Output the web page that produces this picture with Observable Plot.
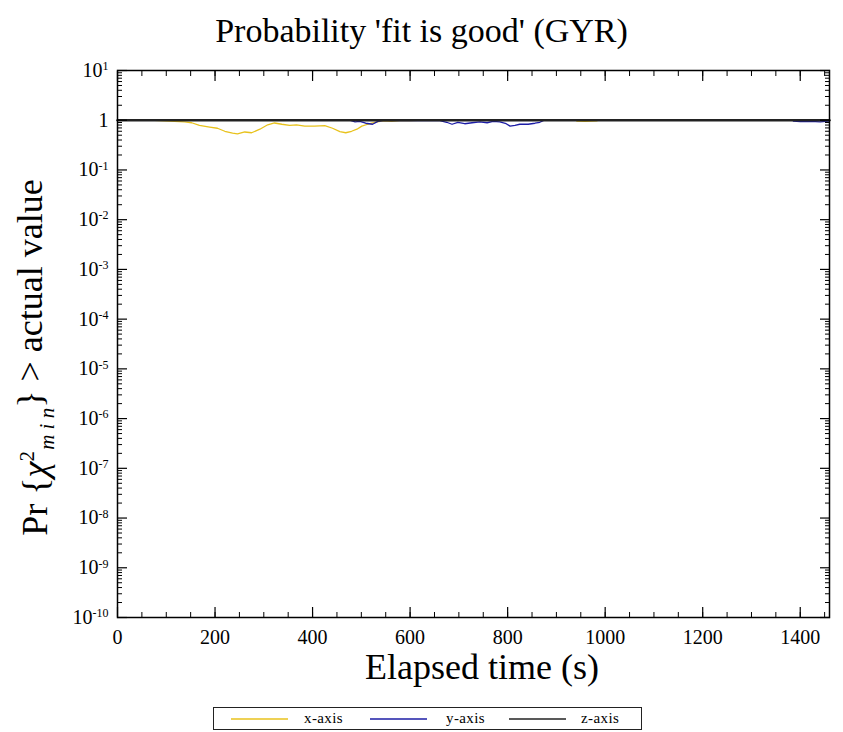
<!DOCTYPE html>
<html><head><meta charset="utf-8">
<script src="https://cdn.jsdelivr.net/npm/d3@7"></script>
<script src="https://cdn.jsdelivr.net/npm/@observablehq/plot@0.6"></script>
<style>
body{margin:0;background:#fff;font-family:"Liberation Serif","Times New Roman",serif;color:#000;}
#title{width:843px;height:52px;line-height:62px;text-align:center;font-size:34px;overflow:visible;white-space:nowrap;}
#chart svg{display:block;}
#legend{position:relative;margin-top:7px;margin-left:213px;width:427px;height:21px;border:1.5px solid #222;font-size:15px;}
#legend .sw{position:absolute;top:8px;}
#legend .tx{position:absolute;top:0;line-height:21px;letter-spacing:0.4px;}
</style></head><body>
<div id="title">Probability 'fit is good' (GYR)</div>
<div id="chart"></div>
<div id="legend"></div>
<script>
// ---- data ----
const seriesNames = ["x-axis", "y-axis", "z-axis"];
const seriesColors = ["#e8c21c", "#1c1ca6", "#222222"];

const xAxisTime = [51, 76, 107, 138, 152, 168, 189, 205, 220, 236, 246, 261, 275, 292, 308, 322, 337, 353, 367, 384, 404, 425, 441, 456, 468, 480, 491, 501, 513, 528, 544, 562, 579, 599, 616, 780, 942, 959, 983];
const xAxisProb = [1.0, 0.99, 0.96, 0.93, 0.89, 0.79, 0.73, 0.69, 0.60, 0.55, 0.53, 0.58, 0.56, 0.66, 0.81, 0.88, 0.83, 0.79, 0.81, 0.76, 0.76, 0.78, 0.69, 0.59, 0.56, 0.60, 0.66, 0.76, 0.83, 0.91, 0.97, 0.95, 0.98, 0.98, 1.0, null, 0.96, 0.95, 0.97];

const yAxisTime = [476, 487, 497, 509, 523, 534, 548, 569, 589, 610, 630, 661, 675, 686, 698, 712, 727, 743, 758, 770, 784, 797, 805, 815, 825, 842, 856, 866, 873, 1100, 1386, 1400, 1421, 1441, 1458];
const yAxisProb = [1.0, 0.93, 0.95, 0.87, 0.83, 0.95, 0.99, 0.98, 0.99, 0.98, 0.99, 0.98, 0.91, 0.83, 0.91, 0.85, 0.89, 0.93, 0.89, 0.95, 0.93, 0.85, 0.76, 0.79, 0.83, 0.83, 0.87, 0.91, 0.98, null, 0.96, 0.94, 0.95, 0.93, 0.96];

const zAxisTime = [0, 1460];
const zAxisProb = [1, 1];

// ---- ticks ----
const xMajorTicks = [0, 200, 400, 600, 800, 1000, 1200, 1400];
const xMinorTicks = d3.range(0, 1461, 50);
const yMajorTicks = [1e1, 1, 1e-1, 1e-2, 1e-3, 1e-4, 1e-5, 1e-6, 1e-7, 1e-8, 1e-9, 1e-10];
const yTickLabels = ["10^1", "1", "10^-1", "10^-2", "10^-3", "10^-4", "10^-5", "10^-6", "10^-7", "10^-8", "10^-9", "10^-10"];
const yMinorTicks = [];
for (let e = -10; e < 1; e++) for (let k = 2; k <= 9; k++) yMinorTicks.push(k * Math.pow(10, e));

// ---- table ----
const rows = [];
[[xAxisTime, xAxisProb], [yAxisTime, yAxisProb], [zAxisTime, zAxisProb]].forEach(([T, P], s) => {
  T.forEach((t, i) => rows.push({series: seriesNames[s], t, p: P[i]}));
});

const font = "Liberation Serif, Times New Roman, serif";
const W = 843, H = 648, mL = 117, mR = 14, mT = 18, mB = 83;

const chart = Plot.plot({
  width: W, height: H,
  marginLeft: mL, marginRight: mR, marginTop: mT, marginBottom: mB,
  style: {fontFamily: font, background: "#fff", color: "#000"},
  x: {domain: [0, 1460]},
  y: {type: "log", domain: [1e-10, 10]},
  marks: [
    Plot.line(rows.filter(d => d.series === "x-axis"), {x: "t", y: "p", stroke: seriesColors[0], strokeWidth: 1.3}),
    Plot.line(rows.filter(d => d.series === "y-axis"), {x: "t", y: "p", stroke: seriesColors[1], strokeWidth: 1.3}),
    Plot.line(rows.filter(d => d.series === "z-axis"), {x: "t", y: "p", stroke: seriesColors[2], strokeWidth: 2.4}),
    // inward ticks, all four sides
    Plot.axisY(yMajorTicks, {anchor: "left", tickSize: -10, fill: "none", strokeWidth: 1.2, label: null}),
    Plot.axisY(yMinorTicks, {anchor: "left", tickSize: -5, fill: "none", strokeWidth: 1, label: null}),
    Plot.axisY(yMajorTicks, {anchor: "right", tickSize: -10, fill: "none", strokeWidth: 1.2, label: null}),
    Plot.axisY(yMinorTicks, {anchor: "right", tickSize: -5, fill: "none", strokeWidth: 1, label: null}),
    Plot.axisX(xMajorTicks, {anchor: "bottom", tickSize: -10, fill: "none", strokeWidth: 1.2, label: null}),
    Plot.axisX(xMinorTicks, {anchor: "bottom", tickSize: -5, fill: "none", strokeWidth: 1, label: null}),
    Plot.axisX(xMajorTicks, {anchor: "top", tickSize: -10, fill: "none", strokeWidth: 1.2, label: null}),
    Plot.axisX(xMinorTicks, {anchor: "top", tickSize: -5, fill: "none", strokeWidth: 1, label: null}),
    // tick labels
    Plot.axisY(yMajorTicks, {anchor: "left", tickSize: 0, tickPadding: 9, fontSize: 20, label: null,
      tickFormat: d => yTickLabels[yMajorTicks.indexOf(d)]}),
    Plot.axisX(xMajorTicks, {anchor: "bottom", tickSize: 0, tickPadding: 12, fontSize: 20, label: null,
      tickFormat: d => String(d)}),
    Plot.frame({stroke: "#000", strokeWidth: 1.5})
  ]
});
document.getElementById("chart").appendChild(chart);

// superscripts on the log tick labels
chart.querySelectorAll("text").forEach(t => {
  const s = t.textContent;
  if (s.includes("^")) {
    const [base, exp] = s.split("^");
    t.textContent = "";
    const ns = "http://www.w3.org/2000/svg";
    const a = document.createElementNS(ns, "tspan"); a.textContent = base; t.appendChild(a);
    const b = document.createElementNS(ns, "tspan"); b.textContent = exp;
    b.setAttribute("dy", "-0.55em"); b.setAttribute("font-size", "12"); t.appendChild(b);
  }
});

const svg = d3.select(chart);
// y axis title with chi-square symbol
const yl = svg.append("text")
  .attr("transform", `translate(47,${(mT + H - mB) / 2 + 14})rotate(-90)`)
  .attr("text-anchor", "middle").attr("font-size", 36).attr("font-family", font).attr("fill", "#000");
yl.append("tspan").text("Pr {");
yl.append("tspan").attr("font-style", "italic").text("χ");
yl.append("tspan").attr("dy", "-0.6em").attr("font-size", 21).text("2");
yl.append("tspan").attr("dy", "0.95em").attr("dx", "-4").attr("font-size", 21).attr("font-style", "italic").text(" m i n");
yl.append("tspan").attr("dy", "-0.35em").text("} > actual value");

// x axis title
svg.append("text")
  .attr("x", (mL + W - mR) / 2 + 9).attr("y", 627)
  .attr("text-anchor", "middle").attr("font-size", 36).attr("font-family", font).attr("fill", "#000")
  .text("Elapsed time (s)");

// legend
const lg = d3.select("#legend");
const swX = [17, 156, 295], txX = [90, 232, 367];
seriesNames.forEach((n, i) => {
  const s = lg.append("svg").attr("class", "sw").style("left", swX[i] + "px").attr("width", 57).attr("height", 6);
  s.append("line").attr("x1", 0).attr("x2", 57).attr("y1", 3).attr("y2", 3)
    .attr("stroke", seriesColors[i]).attr("stroke-width", 1.6);
  lg.append("div").attr("class", "tx").style("left", txX[i] + "px").text(n);
});
</script>
</body></html>
